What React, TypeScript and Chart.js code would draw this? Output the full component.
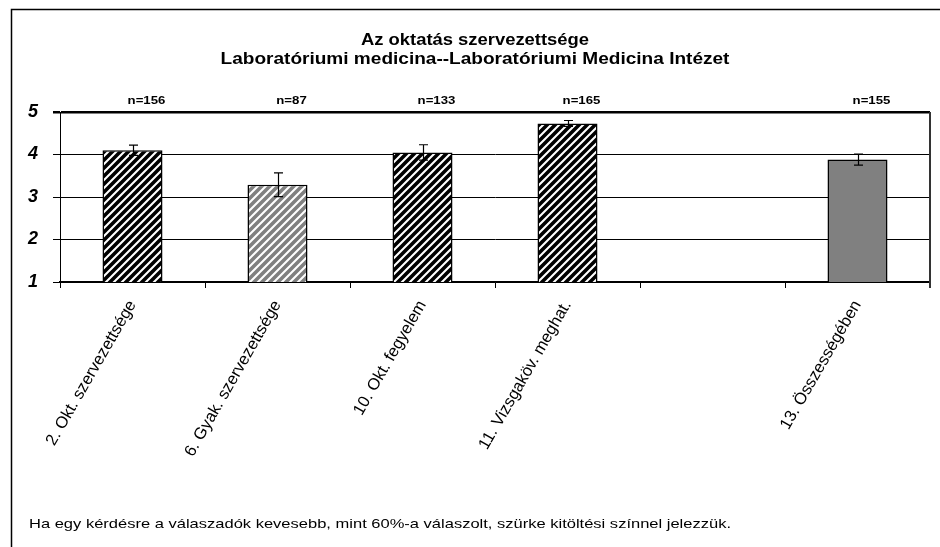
import React, { useEffect, useRef } from 'react';
import { Chart, registerables } from 'chart.js';

Chart.register(...registerables);

const TITLE_LINES = ['Az oktatás szervezettsége', 'Laboratóriumi medicina--Laboratóriumi Medicina Intézet'];
const CATEGORIES = [
  '2. Okt. szervezettsége',
  '6. Gyak. szervezettsége',
  '10. Okt. fegyelem',
  '11. Vizsgaköv. meghat.',
  '',
  '13. Összességében',
];
const MEANS: (number | null)[] = [4.1, 3.29, 4.05, 4.73, null, 3.88];
const ERRORS: (number | null)[] = [0.12, 0.28, 0.18, 0.07, null, 0.13];
const N_LABELS = ['n=156', 'n=87', 'n=133', 'n=165', '', 'n=155'];
const FILL_KIND = ['stripe', 'stripeGrey', 'stripe', 'stripe', 'none', 'solid'];
const Y_MIN = 1;
const Y_MAX = 5;
const FOOTNOTE = 'Ha egy kérdésre a válaszadók kevesebb, mint 60%-a válaszolt, szürke kitöltési színnel jelezzük.';

const FONT = '"Liberation Sans", Arial, sans-serif';

function makeStripe(color: string): CanvasPattern | string {
  const c = document.createElement('canvas');
  const s = 8;
  c.width = s;
  c.height = s;
  const g = c.getContext('2d');
  if (!g) return color;
  g.fillStyle = '#ffffff';
  g.fillRect(0, 0, s, s);
  g.strokeStyle = color;
  g.lineWidth = 3.6;
  g.beginPath();
  g.moveTo(-2, s + 2);
  g.lineTo(s + 2, -2);
  g.moveTo(-2, 2);
  g.lineTo(2, -2);
  g.moveTo(s - 2, s + 2);
  g.lineTo(s + 2, s - 2);
  g.stroke();
  const p = g.createPattern(c, 'repeat');
  return p || color;
}

function stretchedText(ctx: CanvasRenderingContext2D, text: string, x: number, y: number, sx: number) {
  ctx.save();
  ctx.translate(x, y);
  ctx.scale(sx, 1);
  ctx.fillText(text, 0, 0);
  ctx.restore();
}

const decorPlugin = {
  id: 'decor',
  beforeDraw(chart: any) {
    const { ctx, width, height } = chart;
    ctx.save();
    ctx.fillStyle = '#ffffff';
    ctx.fillRect(0, 0, width, height);
    ctx.strokeStyle = '#000000';
    ctx.lineWidth = 1.5;
    ctx.beginPath();
    ctx.moveTo(width, 9.5);
    ctx.lineTo(11.5, 9.5);
    ctx.lineTo(11.5, height);
    ctx.stroke();
    ctx.restore();
  },
  afterDatasetsDraw(chart: any) {
    const { ctx, chartArea } = chart;
    const xs = chart.scales.x;
    const ys = chart.scales.y;
    ctx.save();
    ctx.strokeStyle = '#333333';
    ctx.lineWidth = 2;
    ctx.beginPath();
    ctx.moveTo(chartArea.right, chartArea.top);
    ctx.lineTo(chartArea.right, chartArea.bottom + 6);
    ctx.stroke();
    ctx.strokeStyle = '#000000';
    ctx.lineWidth = 1.2;
    MEANS.forEach((m, i) => {
      const e = ERRORS[i];
      if (m == null || e == null) return;
      const x = Math.round(xs.getPixelForValue(i)) + 0.5;
      const yt = ys.getPixelForValue(m + e);
      const yb = ys.getPixelForValue(m - e);
      ctx.beginPath();
      ctx.moveTo(x, yt);
      ctx.lineTo(x, yb);
      ctx.moveTo(x - 4.5, yt);
      ctx.lineTo(x + 4.5, yt);
      ctx.moveTo(x - 4.5, yb);
      ctx.lineTo(x + 4.5, yb);
      ctx.stroke();
    });
    ctx.restore();
  },
  afterDraw(chart: any) {
    const { ctx } = chart;
    const xs = chart.scales.x;
    ctx.save();
    ctx.fillStyle = '#000000';
    ctx.textAlign = 'center';
    ctx.textBaseline = 'middle';
    ctx.font = `bold 16px ${FONT}`;
    stretchedText(ctx, TITLE_LINES[0], 475, 41, 1.15);
    stretchedText(ctx, TITLE_LINES[1], 475, 60, 1.19);
    ctx.font = `bold 11px ${FONT}`;
    N_LABELS.forEach((t, i) => {
      if (!t) return;
      stretchedText(ctx, t, xs.getPixelForValue(i) + 14, 101, 1.2);
    });
    ctx.textAlign = 'left';
    ctx.textBaseline = 'alphabetic';
    ctx.font = `13px ${FONT}`;
    stretchedText(ctx, FOOTNOTE, 29, 528, 1.27);
    ctx.restore();
  },
};

export default function App() {
  const ref = useRef<HTMLCanvasElement | null>(null);

  useEffect(() => {
    const canvas = ref.current;
    if (!canvas) return;
    const black = makeStripe('#000000');
    const grey = makeStripe('#808080');
    const fills = FILL_KIND.map((k) =>
      k === 'stripe' ? black : k === 'stripeGrey' ? grey : k === 'solid' ? '#808080' : 'rgba(0,0,0,0)'
    );
    const chart = new Chart(canvas, {
      type: 'bar',
      data: {
        labels: CATEGORIES,
        datasets: [
          {
            data: MEANS as any,
            backgroundColor: fills as any,
            borderColor: '#000000',
            borderWidth: 1.5,
            categoryPercentage: 1,
            barPercentage: 0.414,
          },
        ],
      },
      plugins: [decorPlugin],
      options: {
        responsive: false,
        animation: false,
        devicePixelRatio: 1,
        layout: { padding: { top: 112, right: 10, left: 0, bottom: 0 } },
        plugins: {
          legend: { display: false },
          title: { display: false },
          tooltip: { enabled: false },
        },
        scales: {
          x: {
            type: 'category',
            afterFit: (s: any) => {
              s.height = 265;
            },
            grid: {
              display: true,
              drawOnChartArea: false,
              drawTicks: true,
              tickLength: 6,
              color: '#000000',
              offset: true,
            },
            border: { display: true, color: '#000000', width: 1.5 },
            ticks: {
              autoSkip: false,
              minRotation: 60,
              maxRotation: 60,
              padding: 9,
              color: '#000000',
              font: { family: FONT, size: 16.5 },
            },
          },
          y: {
            min: Y_MIN,
            max: Y_MAX,
            afterFit: (s: any) => {
              s.width = 60;
            },
            grid: {
              color: '#000000',
              lineWidth: (c: any) => (c.tick && c.tick.value === Y_MAX ? 2.5 : 1),
              tickLength: 7,
              drawTicks: true,
            },
            border: { display: true, color: '#000000', width: 1 },
            ticks: {
              stepSize: 1,
              padding: 15,
              color: '#000000',
              font: { family: FONT, size: 18, weight: 'bold', style: 'italic' },
            },
          },
        },
      } as any,
    });
    return () => chart.destroy();
  }, []);

  return (
    <div style={{ position: 'absolute', left: 0, top: 0, width: 940, height: 547 }}>
      <canvas ref={ref} width={940} height={547} style={{ width: 940, height: 547, display: 'block' }} />
    </div>
  );
}
